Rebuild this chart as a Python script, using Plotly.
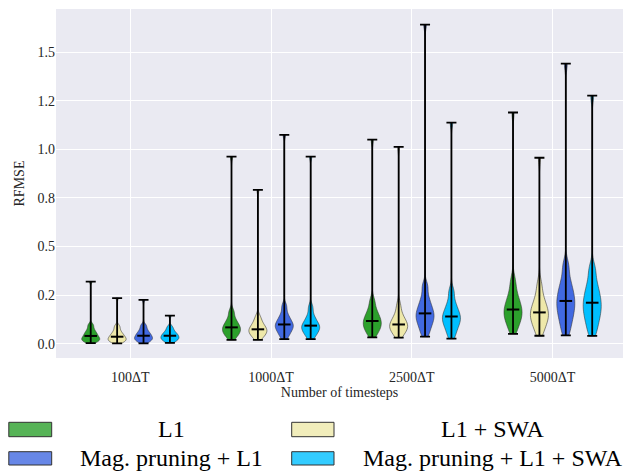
import numpy as np
import plotly.graph_objects as go

# Categories and series
groups = ["100ΔT", "1000ΔT", "2500ΔT", "5000ΔT"]
series_names = ["L1", "L1 + SWA", "Mag. pruning + L1", "Mag. pruning + L1 + SWA"]

# RFMSE samples per (series, group)
l1 = [
    [0.003, 0.008, 0.012, 0.016, 0.019, 0.022, 0.025, 0.028, 0.031, 0.035, 0.040,
     0.044, 0.048, 0.053, 0.058, 0.064, 0.071, 0.080, 0.092, 0.100, 0.320],
    [0.020, 0.032, 0.041, 0.048, 0.054, 0.059, 0.064, 0.069, 0.074, 0.079, 0.084,
     0.089, 0.095, 0.101, 0.108, 0.116, 0.126, 0.140, 0.160, 0.172, 0.963],
    [0.033, 0.048, 0.060, 0.069, 0.077, 0.084, 0.091, 0.098, 0.104, 0.110, 0.117,
     0.124, 0.131, 0.139, 0.148, 0.158, 0.170, 0.186, 0.212, 0.228, 1.050],
    [0.051, 0.075, 0.093, 0.107, 0.119, 0.130, 0.140, 0.149, 0.158, 0.167, 0.176,
     0.186, 0.196, 0.207, 0.220, 0.235, 0.252, 0.274, 0.310, 0.335, 1.190],
]
l1_swa = [
    [0.002, 0.007, 0.011, 0.014, 0.017, 0.020, 0.023, 0.026, 0.029, 0.032, 0.036,
     0.040, 0.044, 0.048, 0.053, 0.059, 0.066, 0.075, 0.086, 0.094, 0.235],
    [0.020, 0.030, 0.038, 0.044, 0.049, 0.054, 0.058, 0.062, 0.066, 0.070, 0.074,
     0.078, 0.083, 0.088, 0.094, 0.101, 0.109, 0.119, 0.133, 0.143, 0.792],
    [0.031, 0.044, 0.054, 0.062, 0.069, 0.075, 0.080, 0.085, 0.090, 0.094, 0.099,
     0.105, 0.111, 0.118, 0.126, 0.135, 0.146, 0.160, 0.188, 0.205, 1.013],
    [0.041, 0.063, 0.081, 0.095, 0.107, 0.118, 0.128, 0.137, 0.145, 0.153, 0.161,
     0.170, 0.180, 0.191, 0.203, 0.217, 0.233, 0.254, 0.290, 0.315, 0.957],
]
prune_l1 = [
    [0.002, 0.008, 0.013, 0.017, 0.021, 0.024, 0.027, 0.030, 0.033, 0.037, 0.041,
     0.045, 0.049, 0.053, 0.058, 0.064, 0.071, 0.079, 0.090, 0.098, 0.226],
    [0.024, 0.037, 0.048, 0.057, 0.065, 0.072, 0.078, 0.084, 0.089, 0.094, 0.099,
     0.105, 0.111, 0.118, 0.126, 0.135, 0.146, 0.160, 0.185, 0.200, 1.075],
    [0.036, 0.056, 0.073, 0.088, 0.100, 0.111, 0.121, 0.130, 0.139, 0.147, 0.156,
     0.165, 0.175, 0.186, 0.198, 0.212, 0.229, 0.250, 0.285, 0.305, 1.642],
    [0.043, 0.072, 0.096, 0.117, 0.135, 0.151, 0.166, 0.180, 0.194, 0.207, 0.220,
     0.233, 0.247, 0.262, 0.278, 0.296, 0.317, 0.343, 0.385, 0.415, 1.442],
]
prune_l1_swa = [
    [0.004, 0.010, 0.015, 0.019, 0.022, 0.025, 0.028, 0.031, 0.034, 0.037, 0.041,
     0.044, 0.047, 0.051, 0.055, 0.060, 0.066, 0.073, 0.082, 0.090, 0.144],
    [0.024, 0.036, 0.046, 0.054, 0.061, 0.067, 0.073, 0.078, 0.083, 0.088, 0.093,
     0.098, 0.104, 0.111, 0.119, 0.128, 0.139, 0.153, 0.178, 0.195, 0.963],
    [0.026, 0.046, 0.063, 0.077, 0.089, 0.099, 0.108, 0.117, 0.125, 0.133, 0.140,
     0.148, 0.157, 0.167, 0.178, 0.191, 0.206, 0.225, 0.258, 0.278, 1.138],
    [0.040, 0.068, 0.091, 0.111, 0.128, 0.144, 0.158, 0.172, 0.185, 0.198, 0.211,
     0.224, 0.238, 0.253, 0.269, 0.287, 0.308, 0.334, 0.372, 0.398, 1.277],
]
all_series = [l1, l1_swa, prune_l1, prune_l1_swa]

# y ticks every 0.25, labelled with one decimal
y_tickvals = [0.0, 0.25, 0.5, 0.75, 1.0, 1.25, 1.5]
y_ticktext = ["0.0", "0.2", "0.5", "0.8", "1.0", "1.2", "1.5"]

# Styling
colors = ["#2ca02c", "#eee8aa", "#4169e1", "#00bfff"]
legend_colors = ["rgba(44,160,44,0.8)", "rgba(238,232,170,0.8)",
                 "rgba(65,105,225,0.8)", "rgba(0,191,255,0.8)"]
offsets = [-0.28125, -0.09375, 0.09375, 0.28125]
violin_width = 0.128
bandwidths = [0.010, 0.018, 0.025, 0.035]
FONT = "Liberation Serif, Times New Roman, Times, serif"
W, H = 625, 472
ML, MR, MT, MB = 56, 2, 9, 114

fig = go.Figure()

for s, (samples_by_group, col) in enumerate(zip(all_series, colors)):
    for g, samples in enumerate(samples_by_group):
        fig.add_trace(go.Violin(
            y=samples, x0=g + offsets[s], name=series_names[s],
            width=violin_width, spanmode="hard", bandwidth=bandwidths[g],
            scalemode="width", points=False, showlegend=False,
            fillcolor=col, opacity=1,
            line=dict(color="rgba(50,50,50,0.8)", width=0.7),
            hoverinfo="skip",
        ))

# extrema whiskers with caps and a median bar
for s, samples_by_group in enumerate(all_series):
    xs = [g + offsets[s] for g in range(len(groups))]
    mins = np.array([np.min(v) for v in samples_by_group])
    maxs = np.array([np.max(v) for v in samples_by_group])
    meds = np.array([np.median(v) for v in samples_by_group])
    fig.add_trace(go.Scatter(
        x=xs, y=meds, mode="markers", showlegend=False, hoverinfo="skip",
        marker=dict(symbol="line-ew", size=9, color="black",
                    line=dict(width=2, color="black")),
        error_y=dict(type="data", symmetric=False, array=maxs - meds,
                     arrayminus=meds - mins, color="black",
                     thickness=1.8, width=5),
    ))

# Legend drawn beneath the plot area
pw = W - ML - MR
ph = H - MT - MB


def px_x(px):
    return (px - ML) / pw


def px_y(py):
    return (H - MB - py) / ph


patch_x = [(8.8, 51.7), (291.7, 334.0)]
patch_y = [(422.3, 436.7), (451.7, 465.0)]
text_cx = [171, 493]
text_cy = [428.5, 457.5]
shapes = []
annotations = []
for s, name in enumerate(series_names):
    col_i, row_i = s % 2, s // 2
    x0, x1 = patch_x[col_i]
    y0, y1 = patch_y[row_i]
    shapes.append(dict(
        type="rect", xref="paper", yref="paper",
        x0=px_x(x0), x1=px_x(x1), y0=px_y(y1), y1=px_y(y0),
        fillcolor=legend_colors[s], line=dict(color="#333333", width=1),
    ))
    annotations.append(dict(
        text=name, xref="paper", yref="paper", showarrow=False,
        x=px_x(text_cx[col_i]), y=px_y(text_cy[row_i]),
        xanchor="center", yanchor="middle",
        font=dict(family=FONT, size=24, color="black"),
    ))

fig.update_layout(
    width=W, height=H,
    margin=dict(l=ML, r=MR, t=MT, b=MB, pad=0),
    plot_bgcolor="#eaeaf2", paper_bgcolor="white",
    violinmode="overlay", showlegend=False,
    font=dict(family=FONT, size=14, color="#262626"),
    shapes=shapes, annotations=annotations,
    xaxis=dict(
        range=[-0.528, 3.5], tickvals=list(range(len(groups))), ticktext=groups,
        showgrid=True, gridcolor="white", gridwidth=1.3, zeroline=False,
        ticks="outside", ticklen=6, tickcolor="rgba(0,0,0,0)",
        showline=False, tickfont=dict(size=14),
        title=dict(text="Number of timesteps", font=dict(size=14), standoff=1),
    ),
    yaxis=dict(
        range=[-0.0736, 1.7227], tickvals=y_tickvals, ticktext=y_ticktext,
        showgrid=True, gridcolor="white", gridwidth=1.3, zeroline=False,
        ticks="", showline=False, tickfont=dict(size=14),
        title=dict(text="RFMSE", font=dict(size=14), standoff=9),
    ),
)

fig.write_html("out.html")
